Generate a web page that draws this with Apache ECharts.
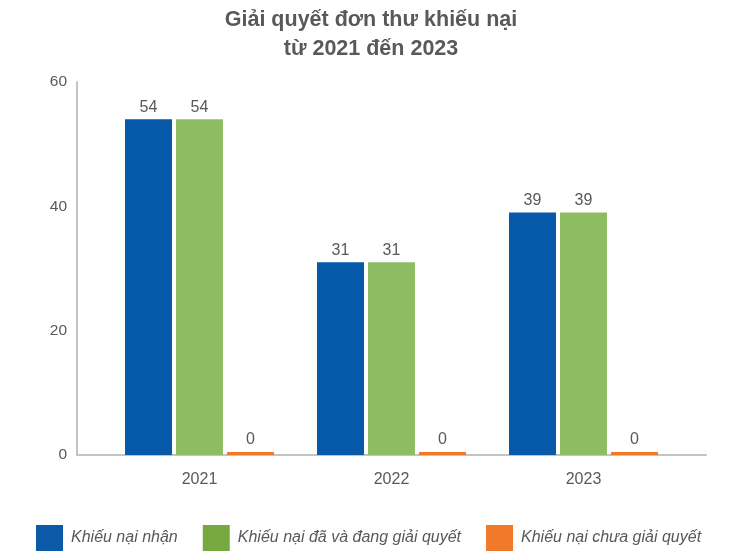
<!DOCTYPE html>
<html>
<head>
<meta charset="utf-8">
<title>Giải quyết đơn thư khiếu nại</title>
<script src="https://cdn.jsdelivr.net/npm/echarts@6/dist/echarts.min.js"></script>
<style>
  html, body { margin: 0; padding: 0; background: #fff; }
  #chart { width: 742px; height: 551px; }
</style>
</head>
<body>
<div id="chart"></div>
<script>
// Complaint handling, 2021–2023
const years = ['2021', '2022', '2023'];
const received = [54, 31, 39];      // Khiếu nại nhận
const resolved = [54, 31, 39];      // Khiếu nại đã và đang giải quyết
const unresolved = [0, 0, 0];       // Khiếu nại chưa giải quyết
const yTicks = [0, 20, 40, 60];

const seriesNames = ['Khiếu nại nhận', 'Khiếu nại đã và đang giải quyết', 'Khiếu nại chưa giải quyết'];
const barColors = ['#075aaa', '#8dbd63', '#ef7a2a'];
const legendColors = ['#0a5aa8', '#78a940', '#f07a2a'];

const FONT = '"Liberation Sans", Arial, sans-serif';
const TEXT = '#595959';
const AXIS = '#c4c4c4';

const yMin = yTicks[0];
const yMax = yTicks[yTicks.length - 1];
const yStep = yTicks[1] - yTicks[0];

const chart = echarts.init(document.getElementById('chart'), null, { renderer: 'canvas' });

const label = {
  show: true,
  position: 'top',
  distance: 4,
  color: TEXT,
  fontSize: 16,
  fontFamily: FONT
};

function bar(name, data, color, extra) {
  return Object.assign({
    name: name,
    type: 'bar',
    xAxisIndex: 1,
    yAxisIndex: 1,
    data: data,
    barWidth: 47,
    barGap: '8.5%',
    itemStyle: { color: color },
    label: label,
    emphasis: { disabled: true }
  }, extra || {});
}

chart.setOption({
  animation: false,
  backgroundColor: '#ffffff',
  textStyle: { fontFamily: FONT },
  title: {
    text: 'Giải quyết đơn thư khiếu nại\ntừ 2021 đến 2023',
    left: 'center',
    top: 1,
    textStyle: {
      color: TEXT,
      fontSize: 21.5,
      fontWeight: 'bold',
      fontFamily: FONT,
      lineHeight: 29
    }
  },
  legend: {
    top: 520,
    left: 31,
    itemWidth: 27,
    itemHeight: 26,
    itemGap: 25,
    icon: 'rect',
    textStyle: {
      color: TEXT,
      fontSize: 16,
      fontStyle: 'italic',
      fontFamily: FONT,
      padding: [0, 0, 0, 3]
    },
    data: seriesNames.map((n, i) => ({ name: n, itemStyle: { color: legendColors[i] } }))
  },
  grid: [
    // frame carrying the axis lines and value labels
    { left: 77, right: 36, top: 82, bottom: 96 },
    // area holding the bar groups
    { left: 103.5, right: 62.5, top: 82, bottom: 96 }
  ],
  xAxis: [
    {
      type: 'category',
      gridIndex: 0,
      data: years,
      axisLine: { show: true, lineStyle: { color: AXIS, width: 2 } },
      axisTick: { show: false },
      axisLabel: { show: false },
      splitLine: { show: false }
    },
    {
      type: 'category',
      gridIndex: 1,
      data: years,
      axisLine: { show: false },
      axisTick: { show: false },
      axisLabel: { color: TEXT, fontSize: 16, fontFamily: FONT, margin: 17 },
      splitLine: { show: false }
    }
  ],
  yAxis: [
    {
      type: 'value',
      gridIndex: 0,
      min: yMin,
      max: yMax,
      interval: yStep,
      axisLine: { show: true, lineStyle: { color: AXIS, width: 2 } },
      axisTick: { show: false },
      splitLine: { show: false },
      axisLabel: { color: TEXT, fontSize: 15.5, fontFamily: FONT, margin: 10 }
    },
    {
      type: 'value',
      gridIndex: 1,
      min: yMin,
      max: yMax,
      interval: yStep,
      show: false,
      splitLine: { show: false }
    }
  ],
  series: [
    bar(seriesNames[0], received, barColors[0]),
    bar(seriesNames[1], resolved, barColors[1]),
    bar(seriesNames[2], unresolved, barColors[2], { barMinHeight: 3 })
  ]
});
</script>
</body>
</html>
